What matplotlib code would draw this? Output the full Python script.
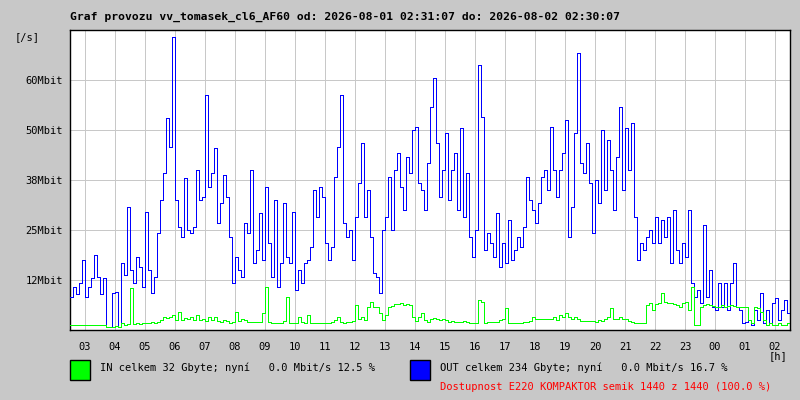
import matplotlib
matplotlib.use('Agg')
import matplotlib.pyplot as plt
import matplotlib.patches as mpatches
import numpy as np

# hodnoty, krok 6 minut, [Mbit/s]
out_mbit = [
    8.3, 10.8, 9.0, 11.7, 17.5, 8.3, 10.8, 12.9, 18.8, 13.3,
    9.0, 12.9, 0.8, 0.8, 9.2, 9.6, 0.8, 16.7, 13.8, 30.8,
    15.0, 11.7, 18.3, 15.8, 10.8, 29.6, 15.0, 9.2, 13.3, 24.2,
    32.5, 39.2, 52.9, 45.8, 73.3, 32.5, 25.8, 23.3, 37.9, 25.0,
    24.2, 25.8, 40.0, 32.5, 33.3, 58.8, 35.8, 39.2, 45.4, 26.7,
    31.7, 38.8, 33.3, 23.3, 11.7, 18.3, 15.0, 13.3, 26.7, 24.2,
    40.0, 16.7, 20.0, 29.2, 17.5, 35.8, 21.7, 13.3, 32.5, 10.8,
    16.7, 31.7, 18.3, 16.7, 29.6, 10.0, 15.0, 11.7, 16.7, 17.5,
    20.8, 35.0, 28.3, 35.8, 33.3, 21.7, 17.5, 20.8, 38.3, 45.8,
    58.8, 26.7, 23.3, 25.0, 17.5, 28.3, 36.7, 46.7, 28.3, 35.0,
    23.3, 14.2, 13.3, 9.2, 25.0, 28.3, 38.3, 25.0, 40.0, 44.2,
    35.8, 30.0, 43.3, 39.2, 50.0, 50.8, 36.7, 35.0, 30.0, 41.7,
    55.8, 62.9, 46.7, 33.3, 40.0, 49.2, 32.5, 40.0, 44.2, 30.0,
    50.4, 28.3, 39.2, 23.3, 18.3, 25.0, 66.3, 53.3, 20.0, 24.2,
    21.7, 18.3, 29.2, 15.8, 21.7, 16.7, 27.5, 17.5, 20.0, 23.3,
    20.8, 25.8, 38.3, 32.5, 30.0, 26.7, 31.7, 38.3, 40.0, 35.0,
    50.8, 40.0, 33.3, 40.0, 44.2, 52.5, 23.3, 30.8, 49.2, 69.2,
    41.7, 39.2, 46.7, 36.7, 24.2, 37.5, 31.7, 50.0, 35.0, 47.5,
    40.0, 30.0, 43.3, 55.8, 35.0, 50.4, 40.0, 51.7, 28.3, 17.5,
    21.7, 20.0, 23.3, 25.0, 21.7, 28.3, 21.7, 27.5, 23.3, 28.3,
    16.7, 30.0, 20.0, 16.7, 21.7, 18.3, 30.0, 11.7, 8.3, 10.0,
    6.7, 26.3, 8.3, 15.0, 5.8, 5.0, 11.7, 5.8, 11.7, 5.0,
    11.7, 16.7, 5.8, 5.0, 1.7, 2.1, 2.5, 1.3, 5.0, 2.5,
    9.2, 1.7, 5.0, 1.7, 6.7, 7.9, 2.5, 5.0, 7.5, 4.2,
]
in_mbit = [
    1.2, 1.3, 1.2, 1.3, 1.2, 1.2, 1.3, 1.2, 1.3, 1.2,
    1.2, 1.3, 0.8, 0.8, 0.8, 1.0, 0.8, 1.7, 1.2, 1.5,
    10.4, 1.5, 1.7, 1.5, 1.7, 1.8, 1.8, 2.1, 1.8, 2.1,
    2.5, 3.2, 2.9, 3.3, 3.8, 2.5, 4.6, 2.5, 2.9, 2.7,
    3.3, 2.5, 3.8, 2.5, 2.7, 2.3, 3.2, 2.5, 3.3, 2.3,
    2.1, 2.5, 2.3, 1.7, 2.1, 4.6, 2.3, 2.7, 2.5, 2.1,
    2.1, 2.1, 2.1, 2.1, 4.2, 10.8, 2.1, 1.7, 1.7, 1.7,
    1.8, 2.3, 8.3, 1.8, 1.7, 1.7, 3.3, 2.1, 1.8, 3.8,
    1.8, 1.8, 1.8, 1.8, 1.8, 1.8, 1.7, 2.1, 2.5, 3.2,
    2.1, 1.8, 2.1, 2.1, 2.3, 6.3, 2.7, 3.2, 2.5, 5.8,
    7.1, 5.8, 5.7, 4.2, 2.5, 3.8, 5.8, 6.0, 6.5, 6.5,
    6.7, 6.3, 6.5, 6.3, 3.3, 2.3, 3.3, 4.2, 2.5, 2.1,
    2.7, 2.9, 2.7, 2.5, 2.7, 2.5, 2.1, 2.3, 2.1, 2.1,
    2.1, 2.3, 2.1, 1.7, 1.7, 1.8, 7.5, 7.1, 1.8, 2.1,
    2.1, 2.1, 2.1, 2.5, 2.8, 5.4, 1.8, 1.7, 1.7, 1.7,
    1.7, 2.0, 2.0, 2.3, 3.3, 2.7, 2.7, 2.7, 2.7, 2.7,
    2.7, 3.2, 2.5, 3.8, 3.2, 4.2, 3.2, 2.8, 3.3, 2.7,
    2.3, 2.3, 2.3, 2.3, 2.3, 2.0, 2.5, 2.3, 2.8, 3.2,
    5.4, 2.7, 2.7, 3.2, 2.8, 2.7, 2.3, 2.1, 1.7, 1.7,
    1.8, 1.8, 6.3, 6.7, 5.0, 6.5, 6.7, 9.2, 7.1, 6.7,
    6.8, 6.5, 6.3, 5.8, 6.7, 7.1, 5.0, 10.8, 1.3, 1.3,
    5.8, 6.3, 6.5, 6.2, 6.0, 5.8, 5.8, 6.3, 5.7, 6.0,
    6.2, 6.0, 5.8, 5.7, 5.8, 5.7, 2.5, 1.7, 5.8, 5.4,
    4.6, 2.5, 1.3, 1.7, 1.3, 1.3, 1.7, 1.3, 1.3, 1.7,
]
hour_labels = ['03', '04', '05', '06', '07', '08', '09', '10', '11', '12', '13', '14',
               '15', '16', '17', '18', '19', '20', '21', '22', '23', '00', '01', '02']
y_ticks = [12.5, 25, 37.5, 50, 62.5]
y_labels = ['12Mbit', '25Mbit', '38Mbit', '50Mbit', '60Mbit']

W, H = 800, 400
bg = '#c8c8c8'
mono = 'DejaVu Sans Mono'
px = 0.72  # 1 pixel v bodech

fig = plt.figure(figsize=(8, 4), dpi=100, facecolor=bg)
ax = fig.add_axes([70 / W, 70 / H, 720 / W, 300 / H])
ax.set_facecolor('white')

# cas v hodinach od 02:31, krok 0.1 h
t = np.arange(len(out_mbit) + 1) * 0.1
out_s = out_mbit + [out_mbit[-1]]
in_s = in_mbit + [in_mbit[-1]]
ax.step(t, out_s, where='post', color='#0000ff', lw=px, antialiased=False, zorder=3)
ax.step(t, in_s, where='post', color='#00ff00', lw=px, antialiased=False, zorder=4)

ax.set_xlim(0, 24)
ax.set_ylim(0, 75)
ax.set_xticks(np.arange(len(hour_labels)) + 0.5)
ax.set_xticklabels(hour_labels, family=mono, fontsize=7.5)
ax.set_yticks(y_ticks)
ax.set_yticklabels(y_labels, family=mono, fontsize=7.5)
ax.tick_params(axis='both', length=0)
ax.tick_params(axis='x', pad=9)
ax.tick_params(axis='y', pad=5)
ax.grid(True, color='#c8c8c8', lw=px, antialiased=False)
ax.set_axisbelow(True)
for sp in ax.spines.values():
    sp.set_color('black')
    sp.set_linewidth(1.0)


def ftext(x, y, s, **kw):
    fig.text(x / W, 1 - y / H, s, family=mono, va='center', **kw)


ftext(70, 17, 'Graf provozu vv_tomasek_cl6_AF60 od: 2026-08-01 02:31:07 do: 2026-08-02 02:30:07',
      fontsize=8.2, fontweight='bold')
ftext(15, 37, '[/s]', fontsize=7.5)
ftext(769, 356, '[h]', fontsize=7.5)

fig.patches.append(mpatches.Rectangle((70 / W, 1 - 380 / H), 20 / W, 20 / H, transform=fig.transFigure,
                                      facecolor='#00ff00', edgecolor='black', lw=1.0))
fig.patches.append(mpatches.Rectangle((410 / W, 1 - 380 / H), 20 / W, 20 / H, transform=fig.transFigure,
                                      facecolor='#0000ff', edgecolor='black', lw=1.0))
ftext(100, 368, 'IN celkem 32 Gbyte; nyní   0.0 Mbit/s 12.5 %', fontsize=7.5)
ftext(440, 368, 'OUT celkem 234 Gbyte; nyní   0.0 Mbit/s 16.7 %', fontsize=7.5)
ftext(440, 387, 'Dostupnost E220 KOMPAKTOR semik 1440 z 1440 (100.0 %)', fontsize=7.5, color='#ff0000')

fig.savefig('out.png', dpi=100, facecolor=bg)
